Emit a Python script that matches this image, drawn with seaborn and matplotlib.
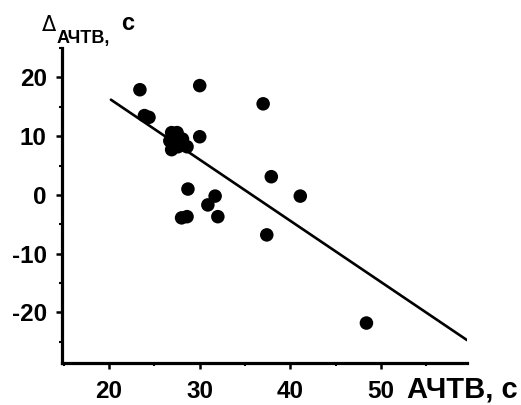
import matplotlib
matplotlib.use("Agg")
import numpy as np
import pandas as pd
import seaborn as sns
import matplotlib.pyplot as plt
from matplotlib.ticker import MultipleLocator

# ---- data ----
aptt = [23.4, 23.9, 24.4, 30.0, 26.9, 27.5, 26.7, 27.3, 26.9, 27.6, 28.1, 28.6,
        30.0, 37.0, 37.9, 41.1, 28.7, 31.7, 30.9, 32.0, 28.0, 28.6, 37.4, 48.4]
delta = [17.9, 13.5, 13.2, 18.6, 10.6, 10.6, 9.2, 9.2, 7.7, 8.2, 9.5, 8.2,
         9.9, 15.5, 3.1, -0.2, 1.0, -0.2, -1.7, -3.7, -3.9, -3.7, -6.8, -21.8]
fit_x = [20.2, 59.5]
fit_y = [16.2, -24.7]
x_ticks = [20, 30, 40, 50]
y_ticks = [-20, -10, 0, 10, 20]
x_title = "АЧТВ, с"
y_title_main = "Δ"
y_title_sub = "АЧТВ,"
y_title_unit = "с"

sns.set_theme(style="ticks")
plt.rcParams['font.family'] = ['Liberation Sans', 'DejaVu Sans']
plt.rcParams['axes.unicode_minus'] = False

W, H = 521, 405
fig = plt.figure(figsize=(W / 100, H / 100), dpi=100)
ax = fig.add_axes([62 / W, 1 - 363 / H, (467 - 62) / W, (363 - 48) / H])

df = pd.DataFrame({"aptt": aptt, "delta": delta})
sns.scatterplot(data=df, x="aptt", y="delta", ax=ax, s=95, color="black",
                edgecolor="none", zorder=3)
sns.lineplot(x=fit_x, y=fit_y, ax=ax, color="black", lw=1.9, zorder=2)

ax.set_xlim(14.8, 59.5)
ax.set_ylim(-28.6, 25.0)
ax.set_xticks(x_ticks)
ax.set_yticks(y_ticks)
ax.xaxis.set_minor_locator(MultipleLocator(5))
ax.yaxis.set_minor_locator(MultipleLocator(5))
ax.set_xlabel("")
ax.set_ylabel("")
for s in ("top", "right"):
    ax.spines[s].set_visible(False)
for s in ("left", "bottom"):
    ax.spines[s].set_linewidth(2.3)
    ax.spines[s].set_color("black")
ax.tick_params(which="major", length=4, width=1.8, color="black", pad=8,
               labelsize=17.5, labelcolor="black")
ax.tick_params(axis="y", which="major", pad=7)
ax.tick_params(which="minor", length=2.5, width=1.5, color="black")
for lab in ax.get_xticklabels() + ax.get_yticklabels():
    lab.set_fontweight("bold")

fig.text(407 / W, 1 - 397 / H, x_title, fontsize=21, fontweight="bold",
         ha="left", va="baseline", color="black")
fig.text(42 / W, 1 - 31 / H, y_title_main, fontsize=15, fontweight="normal",
         family=["DejaVu Sans"], ha="left", va="baseline", color="black")
fig.text(57 / W, 1 - 43 / H, y_title_sub, fontsize=13, fontweight="bold",
         ha="left", va="baseline", color="black")
fig.text(121 / W, 1 - 30 / H, y_title_unit, fontsize=17, fontweight="bold",
         ha="left", va="baseline", color="black")

fig.savefig("out.png", dpi=100, facecolor="white")
